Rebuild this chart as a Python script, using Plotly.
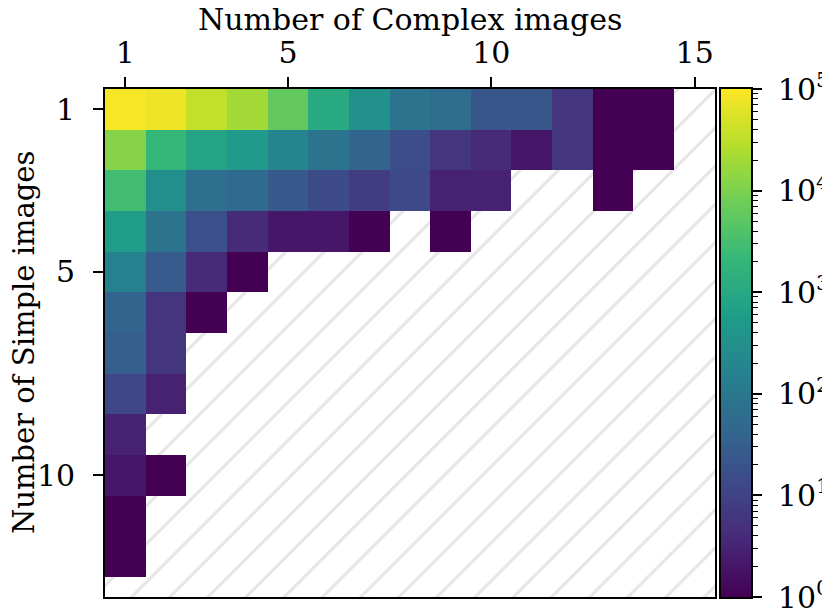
import numpy as np
import plotly.graph_objects as go

# Number of complex images (columns) and number of simple images (rows)
complex_counts = list(range(1, 15))
simple_counts = list(range(1, 13))
x_axis_ticks = [1, 5, 10, 15]
y_axis_ticks = [1, 5, 10]
x_axis_max = 15
y_axis_max = 12.5
x_title = "Number of Complex images"
y_title = "Number of Simple images"

# counts of samples per (simple, complex) combination; None = no samples
row_s1 = [90000, 75000, 35000, 20000, 6000, 1100, 320, 80, 60, 22, 22, 6, 1, 1]
row_s2 = [12000, 2100, 800, 500, 180, 85, 40, 16, 6, 4, 2, 6, 1, 1]
row_s3 = [2800, 300, 63, 50, 25, 14, 8, 13, 3, 3, None, None, 1, None]
row_s4 = [560, 80, 17, 4, 2, 2, 1, None, 1, None, None, None, None, None]
row_s5 = [150, 27, 4, 1, None, None, None, None, None, None, None, None, None, None]
row_s6 = [40, 6, 1, None, None, None, None, None, None, None, None, None, None, None]
row_s7 = [32, 6, None, None, None, None, None, None, None, None, None, None, None, None]
row_s8 = [12, 3, None, None, None, None, None, None, None, None, None, None, None, None]
row_s9 = [3, None, None, None, None, None, None, None, None, None, None, None, None, None]
row_s10 = [2, 1, None, None, None, None, None, None, None, None, None, None, None, None]
row_s11 = [1, None, None, None, None, None, None, None, None, None, None, None, None, None]
row_s12 = [1, None, None, None, None, None, None, None, None, None, None, None, None, None]

rows = [row_s1, row_s2, row_s3, row_s4, row_s5, row_s6, row_s7, row_s8,
        row_s9, row_s10, row_s11, row_s12]

cbar_exponents = [0, 1, 2, 3, 4, 5]

counts = np.array([[np.nan if v is None else v for v in r] for r in rows], dtype=float)
zlog = np.log10(counts)

FONT = "DejaVu Serif"
FS_TICK = 30
FS_TITLE = 30

x_rng = [complex_counts[0] - 0.5, x_axis_max + 0.5]
y_rng = [y_axis_max + 0.5, simple_counts[0] - 0.5]

fig = go.Figure()

# hatched background (empty combinations)
fig.add_trace(go.Bar(
    x=[(x_rng[0] + x_rng[1]) / 2], y=[y_rng[0] - y_rng[1]], base=[y_rng[1]],
    width=[x_rng[1] - x_rng[0]],
    marker=dict(color="white", line=dict(width=0),
                pattern=dict(shape="/", fgcolor="#cdcdcd", bgcolor="white",
                             size=27, solidity=0.12)),
    hoverinfo="skip", showlegend=False, xaxis="x", yaxis="y"))

fig.add_trace(go.Heatmap(
    x=complex_counts, y=simple_counts, z=zlog,
    customdata=counts,
    colorscale="Viridis", zmin=0, zmax=5, showscale=False, zsmooth=False,
    hovertemplate="Complex: %{x}<br>Simple: %{y}<br>Count: %{customdata}<extra></extra>",
    xaxis="x2", yaxis="y2"))

# custom colorbar on a log axis
edges = 10 ** np.linspace(0, 5, 257)
mids = np.linspace(0, 5, 257)
mids = (mids[:-1] + mids[1:]) / 2
fig.add_trace(go.Heatmap(
    x=[0, 1], y=edges, z=mids.reshape(-1, 1),
    colorscale="Viridis", zmin=0, zmax=5, showscale=False, zsmooth=False,
    hoverinfo="skip", xaxis="x3", yaxis="y3"))

# page body has an 8px margin, so the figure is 8px smaller on each axis
W, H = 822, 608
ml, mr, mt, mb = 97, 79, 81, 19
pw = W - ml - mr
x_dom_end = 610 / pw
cb_start = 615.5 / pw

axis_common = dict(showgrid=False, zeroline=False, showline=True, mirror=True,
                   linecolor="black", linewidth=1.6, ticks="outside",
                   tickwidth=1.5, tickcolor="black", ticklen=10, automargin=False,
                   tickfont=dict(family=FONT, size=FS_TICK, color="black"))

minor_vals = [m * 10 ** k for k in range(5) for m in range(2, 10)]

cbar_axis = dict(axis_common)
cbar_axis["ticklen"] = 9

title_font = dict(family=FONT, size=FS_TITLE, color="black")

fig.update_layout(
    width=W, height=H,
    margin=dict(l=ml, r=mr, t=mt, b=mb, autoexpand=False),
    paper_bgcolor="white", plot_bgcolor="white",
    barmode="overlay",
    xaxis=dict(domain=[0, x_dom_end], range=x_rng, visible=False, anchor="y",
               automargin=False),
    yaxis=dict(domain=[0, 1], range=y_rng, visible=False, anchor="x",
               automargin=False),
    xaxis2=dict(overlaying="x", anchor="y2", side="top", range=x_rng,
                tickmode="array", tickvals=x_axis_ticks, ticklabelstandoff=2,
                **axis_common),
    yaxis2=dict(overlaying="y", anchor="x2", side="left", range=y_rng,
                tickmode="array", tickvals=y_axis_ticks, ticklabelstandoff=12,
                **axis_common),
    xaxis3=dict(domain=[cb_start, 1], anchor="y3", range=[0, 1],
                showgrid=False, zeroline=False, showticklabels=False,
                showline=True, mirror=True, linecolor="black", linewidth=1.6,
                ticks="", automargin=False),
    yaxis3=dict(domain=[0, 1], anchor="x3", side="right", type="log",
                range=[cbar_exponents[0], cbar_exponents[-1]],
                tickmode="array", tickvals=[10 ** e for e in cbar_exponents],
                ticktext=[f"10<sup>{e}</sup>" for e in cbar_exponents],
                minor=dict(tickmode="array", tickvals=minor_vals, ticks="outside",
                           ticklen=5, tickwidth=1.2, tickcolor="black"),
                ticklabelstandoff=10,
                **cbar_axis),
    annotations=[
        dict(text=x_title, xref="paper", yref="paper", x=x_dom_end / 2, y=1,
             xanchor="center", yanchor="bottom", yshift=50, showarrow=False,
             font=title_font),
        dict(text=y_title, xref="paper", yref="paper", x=0, y=0.5,
             xanchor="center", yanchor="middle", xshift=-81, textangle=-90,
             showarrow=False, font=dict(family=FONT, size=29, color="black")),
    ],
)

fig.write_html("out.html")
